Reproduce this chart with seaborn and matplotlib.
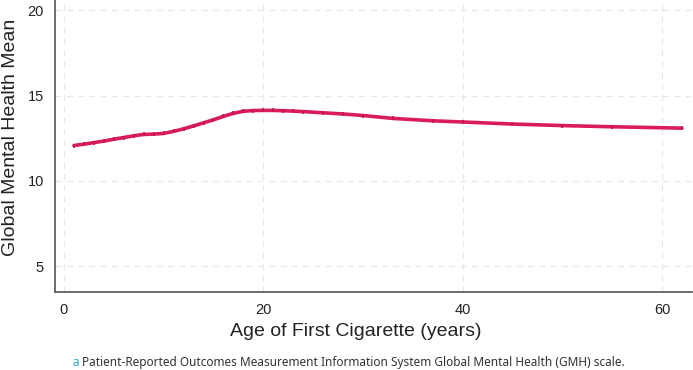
import matplotlib
matplotlib.use("Agg")
import matplotlib.pyplot as plt
import seaborn as sns
import pandas as pd

age = [1, 2, 3, 4, 5, 6, 7, 8, 9, 10, 11, 12, 13, 14, 15, 16, 17, 18, 19, 20,
       21, 22, 23, 24, 26, 28, 30, 33, 37, 40, 45, 50, 55, 62]
gmh = [12.07, 12.15, 12.24, 12.33, 12.44, 12.54, 12.64, 12.72, 12.74, 12.78,
       12.90, 13.05, 13.22, 13.40, 13.58, 13.78, 13.96, 14.08, 14.12, 14.13,
       14.13, 14.11, 14.09, 14.06, 13.99, 13.92, 13.83, 13.66, 13.52, 13.45,
       13.33, 13.24, 13.17, 13.09]

x_ticks = [0, 20, 40, 60]
y_ticks = [5, 10, 15, 20]

df = pd.DataFrame({"age": age, "gmh": gmh})

sns.set_style("white")
plt.rcParams["font.family"] = ["Liberation Sans", "DejaVu Sans"]

fig = plt.figure(figsize=(6.93, 3.70), dpi=100)
ax = fig.add_axes([0.0794, 0.2108, 0.919, 0.789])

sns.lineplot(data=df, x="age", y="gmh", ax=ax, color="#da1c5c", linewidth=2.6,
             marker="|", markersize=3, markeredgewidth=1.2, markeredgecolor="#c0184f")

ax.set_xlim(-0.9, 63)
ax.set_ylim(3.48, 20.6)
ax.set_xticks(x_ticks)
ax.set_yticks(y_ticks)
ax.grid(True, linestyle=(0, (5, 4)), color="#e8e8e8", linewidth=0.9)
for s in ["top", "right"]:
    ax.spines[s].set_visible(False)
for s in ["left", "bottom"]:
    ax.spines[s].set_color("#555555")
    ax.spines[s].set_linewidth(1.2)
ax.tick_params(axis="both", direction="out", length=5, width=1, color="#555555",
               labelsize=10.5, labelcolor="#222222", pad=3)
ax.set_xlabel("Age of First Cigarette (years)", fontsize=14, color="#222222")
ax.set_ylabel("Global Mental Health Mean", fontsize=14, color="#222222")
ax.xaxis.set_label_coords(0.4725, -0.106)
ax.yaxis.set_label_coords(-0.057, 0.529)

fig.text(0.105, 0.019, "a", color="#2a9fd6", fontsize=8.5, va="center",
         family=["Noto Sans", "DejaVu Sans"])
fig.text(0.118, 0.019, "Patient-Reported Outcomes Measurement Information System Global Mental Health (GMH) scale.",
         color="#333333", fontsize=8.5, va="center", family=["Noto Sans", "DejaVu Sans"])

fig.savefig("out.png", dpi=100)
